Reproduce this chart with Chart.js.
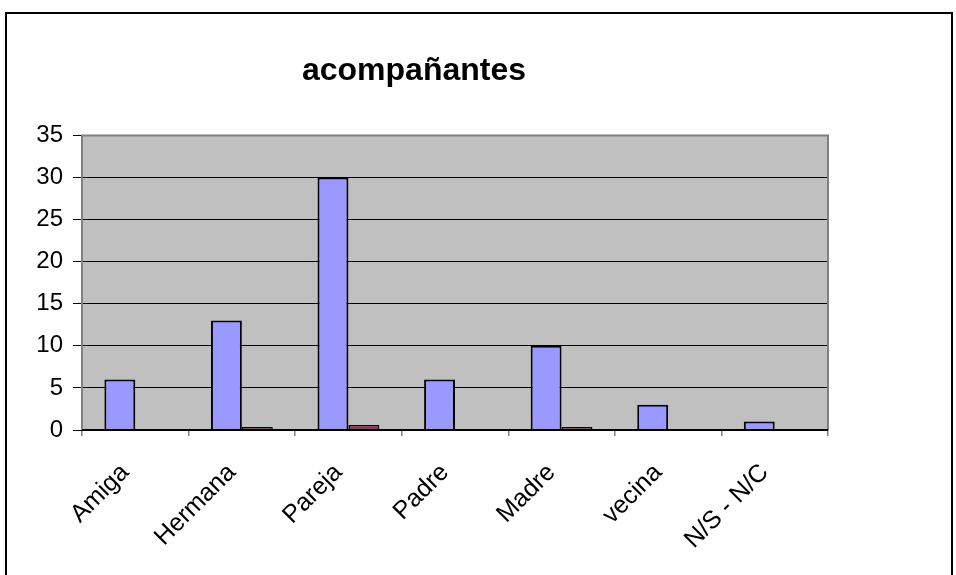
<!DOCTYPE html>
<html>
<head>
<meta charset="utf-8">
<script src="https://cdn.jsdelivr.net/npm/chart.js@4/dist/chart.umd.min.js"></script>
<style>
  html, body { margin: 0; padding: 0; background: #fff; overflow: hidden; }
  #wrap { position: relative; width: 956px; height: 575px; }
  #frame { position: absolute; left: 5px; top: 12px; width: 944px; height: 600px; border: 2px solid #000; }
  canvas { position: absolute; left: 0; top: 0; }
</style>
</head>
<body>
<div id="wrap">
  <div id="frame"></div>
  <canvas id="chart" width="956" height="575"></canvas>
</div>
<script>
const categories = ['Amiga', 'Hermana', 'Pareja', 'Padre', 'Madre', 'vecina', 'N/S - N/C'];
const seriesMain = [6, 13, 30, 6, 10, 3, 1];
const seriesSecond = [0, 0.35, 0.6, 0, 0.35, 0, 0];
const yTicks = [0, 5, 10, 15, 20, 25, 30, 35];

const FONT = 'Arial, "Liberation Sans", sans-serif';

const plotArea = {
  id: 'plotArea',
  beforeDraw(chart) {
    const { ctx, chartArea: a } = chart;
    ctx.save();
    ctx.fillStyle = '#c0c0c0';
    ctx.fillRect(a.left, a.top, a.right - a.left, a.bottom - a.top);
    ctx.restore();
  },
  afterDatasetsDraw(chart) {
    const { ctx, chartArea: a } = chart;
    ctx.save();
    ctx.strokeStyle = '#808080';
    ctx.lineWidth = 2;
    ctx.beginPath();
    ctx.moveTo(a.left, a.bottom);
    ctx.lineTo(a.left, a.top);
    ctx.lineTo(a.right, a.top);
    ctx.lineTo(a.right, a.bottom);
    ctx.stroke();
    ctx.strokeStyle = '#000';
    ctx.beginPath();
    ctx.moveTo(a.left, a.bottom);
    ctx.lineTo(a.right, a.bottom);
    ctx.stroke();
    ctx.restore();
  }
};

new Chart(document.getElementById('chart'), {
  type: 'bar',
  data: {
    labels: categories,
    datasets: [
      {
        label: 'Serie 1',
        data: seriesMain,
        backgroundColor: '#9999ff',
        borderColor: '#000',
        borderWidth: 2,
        categoryPercentage: 0.58,
        barPercentage: 1
      },
      {
        label: 'Serie 2',
        data: seriesSecond,
        backgroundColor: '#993366',
        borderColor: '#000',
        borderWidth: 1.5,
        categoryPercentage: 0.58,
        barPercentage: 1
      }
    ]
  },
  plugins: [plotArea],
  options: {
    responsive: false,
    animation: false,
    layout: { padding: { left: 0, right: 128, top: 0, bottom: 0 } },
    plugins: {
      legend: { display: false },
      tooltip: { enabled: false },
      title: {
        display: true,
        text: 'acompañantes',
        color: '#000',
        font: { family: FONT, size: 32, weight: 'bold' },
        padding: { top: 52, bottom: 45 }
      }
    },
    scales: {
      x: {
        grid: {
          display: true,
          offset: true,
          drawOnChartArea: false,
          drawTicks: true,
          tickLength: 6,
          color: '#808080',
          lineWidth: 1.5
        },
        border: { display: false },
        ticks: {
          color: '#000',
          font: { family: FONT, size: 25 },
          minRotation: 45,
          maxRotation: 45,
          autoSkip: false,
          labelOffset: -10,
          padding: 22
        },
        afterFit(scale) { scale.height = 145; }
      },
      y: {
        min: 0,
        max: 35,
        afterBuildTicks(scale) { scale.ticks = yTicks.map(v => ({ value: v })); },
        grid: {
          color: '#000',
          lineWidth: 1,
          drawTicks: true,
          tickLength: 9
        },
        border: { display: false },
        ticks: {
          color: '#000',
          font: { family: FONT, size: 24 },
          padding: 10
        },
        afterFit(scale) { scale.width = 82; }
      }
    }
  }
});
</script>
</body>
</html>
